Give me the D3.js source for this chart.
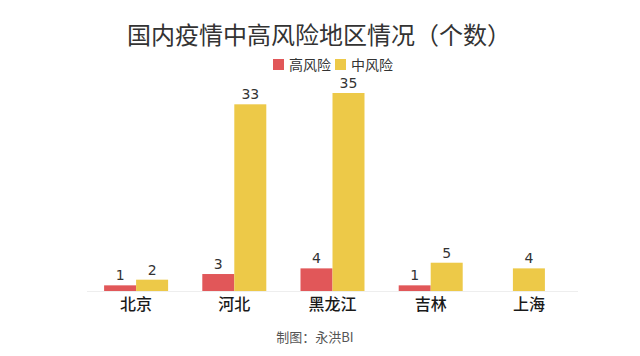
<!DOCTYPE html>
<html><head><meta charset="utf-8">
<script src="https://cdn.jsdelivr.net/npm/d3@7"></script>
<style>body{margin:0;background:#fff}svg{display:block;font-family:"Noto Sans CJK SC","Noto Sans",sans-serif}</style>
</head><body><svg id="c" width="640" height="356"></svg>
<script>
const categories = ["北京","河北","黑龙江","吉林","上海"];
const highRisk = [1,3,4,1,null];
const midRisk = [2,33,35,5,4];
const seriesNames = ["高风险","中风险"];
const colors = ["#e15759","#edc948"];

const svg = d3.select("#c");
const x = d3.scaleBand().domain(categories).range([87,578]).padding(0);
const y = d3.scaleLinear().domain([0,35]).range([291,93]);
const bw = 32;

svg.append("text").attr("x",319).attr("y",44).attr("text-anchor","middle")
  .attr("font-size",24).attr("fill","#333").text("国内疫情中高风险地区情况（个数）");

// legend
const leg = [{x:273},{x:335}];
seriesNames.forEach((n,i)=>{
  svg.append("rect").attr("x",leg[i].x).attr("y",59).attr("width",11).attr("height",11).attr("fill",colors[i]);
  svg.append("text").attr("x",leg[i].x+16).attr("y",69.5).attr("font-size",14).attr("fill","#333").text(n);
});

// axis line
svg.append("line").attr("x1",87).attr("x2",578).attr("y1",291.5).attr("y2",291.5).attr("stroke","#eeeeee");

const series = [highRisk, midRisk];
categories.forEach((c,ci)=>{
  const present = series.map((s,si)=>({si,v:s[ci]})).filter(d=>d.v!=null);
  const cx = x(c)+x.bandwidth()/2;
  const start = cx - present.length*bw/2;
  present.forEach((d,k)=>{
    const bx = start + k*bw;
    svg.append("rect").attr("x",bx).attr("y",y(d.v)).attr("width",bw).attr("height",y(0)-y(d.v)).attr("fill",colors[d.si]);
    svg.append("text").attr("x",bx+bw/2).attr("y",y(d.v)-5).attr("text-anchor","middle")
      .attr("font-size",14).attr("fill","#333").attr("font-family","DejaVu Sans").text(d.v);
  });
});

// x axis labels
const ax = svg.append("g").attr("transform","translate(0,291)")
  .call(d3.axisBottom(x).tickSize(0).tickPadding(8));
ax.select(".domain").remove();
ax.selectAll("text").attr("font-size",16).attr("fill","#1a1a1a").attr("font-weight",500).attr("font-family","Noto Sans CJK SC");

svg.append("text").attr("x",315).attr("y",342).attr("text-anchor","middle")
  .attr("font-size",13).attr("fill","#555").text("制图：永洪BI");
</script></body></html>
